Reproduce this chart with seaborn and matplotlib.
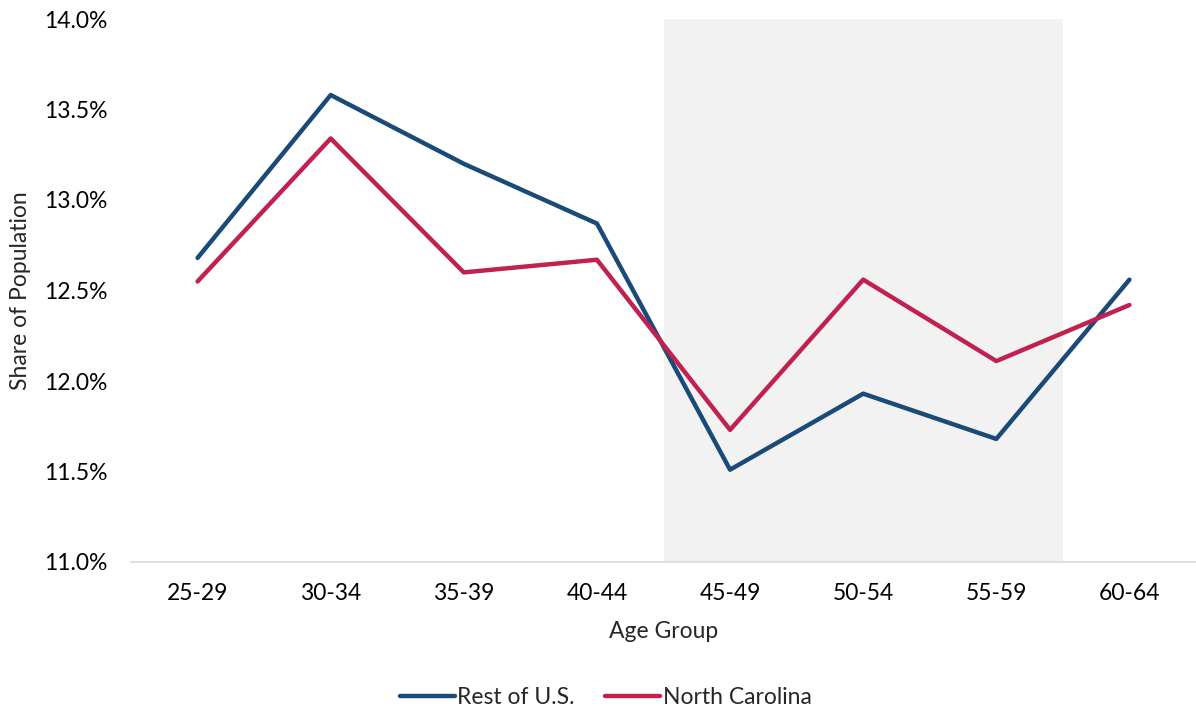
import pandas as pd
import matplotlib.pyplot as plt
import seaborn as sns
from matplotlib.ticker import FuncFormatter

# Werte
age_groups = ['25-29', '30-34', '35-39', '40-44', '45-49', '50-54', '55-59', '60-64']
rest_us = [12.68, 13.58, 13.20, 12.87, 11.51, 11.93, 11.68, 12.56]
north_carolina = [12.55, 13.34, 12.60, 12.67, 11.73, 12.56, 12.11, 12.42]
series_names = ['Rest of U.S.', 'North Carolina']
shade_from, shade_to = '45-49', '55-59'

df = pd.DataFrame({
    'Age Group': age_groups * 2,
    'share': rest_us + north_carolina,
    'series': [series_names[0]] * len(age_groups) + [series_names[1]] * len(age_groups),
})

sns.set_style('white')
plt.rcParams['font.family'] = ['Lato', 'DejaVu Sans']

fig = plt.figure(figsize=(11.96, 7.10), dpi=100)
ax = fig.add_axes([131 / 1196, 1 - 562 / 710, 1 - 131 / 1196, (562 - 19) / 710])

palette = {'Rest of U.S.': '#1A4A78', 'North Carolina': '#C0214F'}
sns.lineplot(data=df, x='Age Group', y='share', hue='series', palette=palette,
             linewidth=3.2, sort=False, ax=ax, solid_capstyle='round')

# grauer Bereich
i0 = age_groups.index(shade_from) - 0.5
i1 = age_groups.index(shade_to) + 0.5
ax.axvspan(i0, i1, color='#F2F2F2', zorder=0, lw=0)

ax.set_xlim(-0.5, len(age_groups) - 0.5)
ax.set_ylim(11.0, 14.0)
ax.set_yticks([11.0, 11.5, 12.0, 12.5, 13.0, 13.5, 14.0])
ax.yaxis.set_major_formatter(FuncFormatter(lambda v, p: f'{v:.1f}%'))

for s in ['top', 'right', 'left']:
    ax.spines[s].set_visible(False)
ax.spines['bottom'].set_color('#D9D9D9')
ax.spines['bottom'].set_linewidth(1.2)
ax.tick_params(axis='both', length=0, labelsize=16.5, colors='#000000')
ax.tick_params(axis='y', pad=17)
ax.tick_params(axis='x', pad=15)

ax.set_xlabel('Age Group', fontsize=16.5, labelpad=12)
ax.set_ylabel('Share of Population', fontsize=16.5)
ax.yaxis.set_label_coords(-0.094, 0.5)

handles, labels = ax.get_legend_handles_labels()
leg = ax.legend(handles, labels, loc='center', bbox_to_anchor=(0.5 - 58 / 1065, -0.250),
                ncol=2, frameon=False, fontsize=16.5, handlelength=2.4,
                handletextpad=0.1, columnspacing=1.35)
for line in leg.get_lines():
    line.set_linewidth(3.2)

fig.savefig('out.png', dpi=100)
